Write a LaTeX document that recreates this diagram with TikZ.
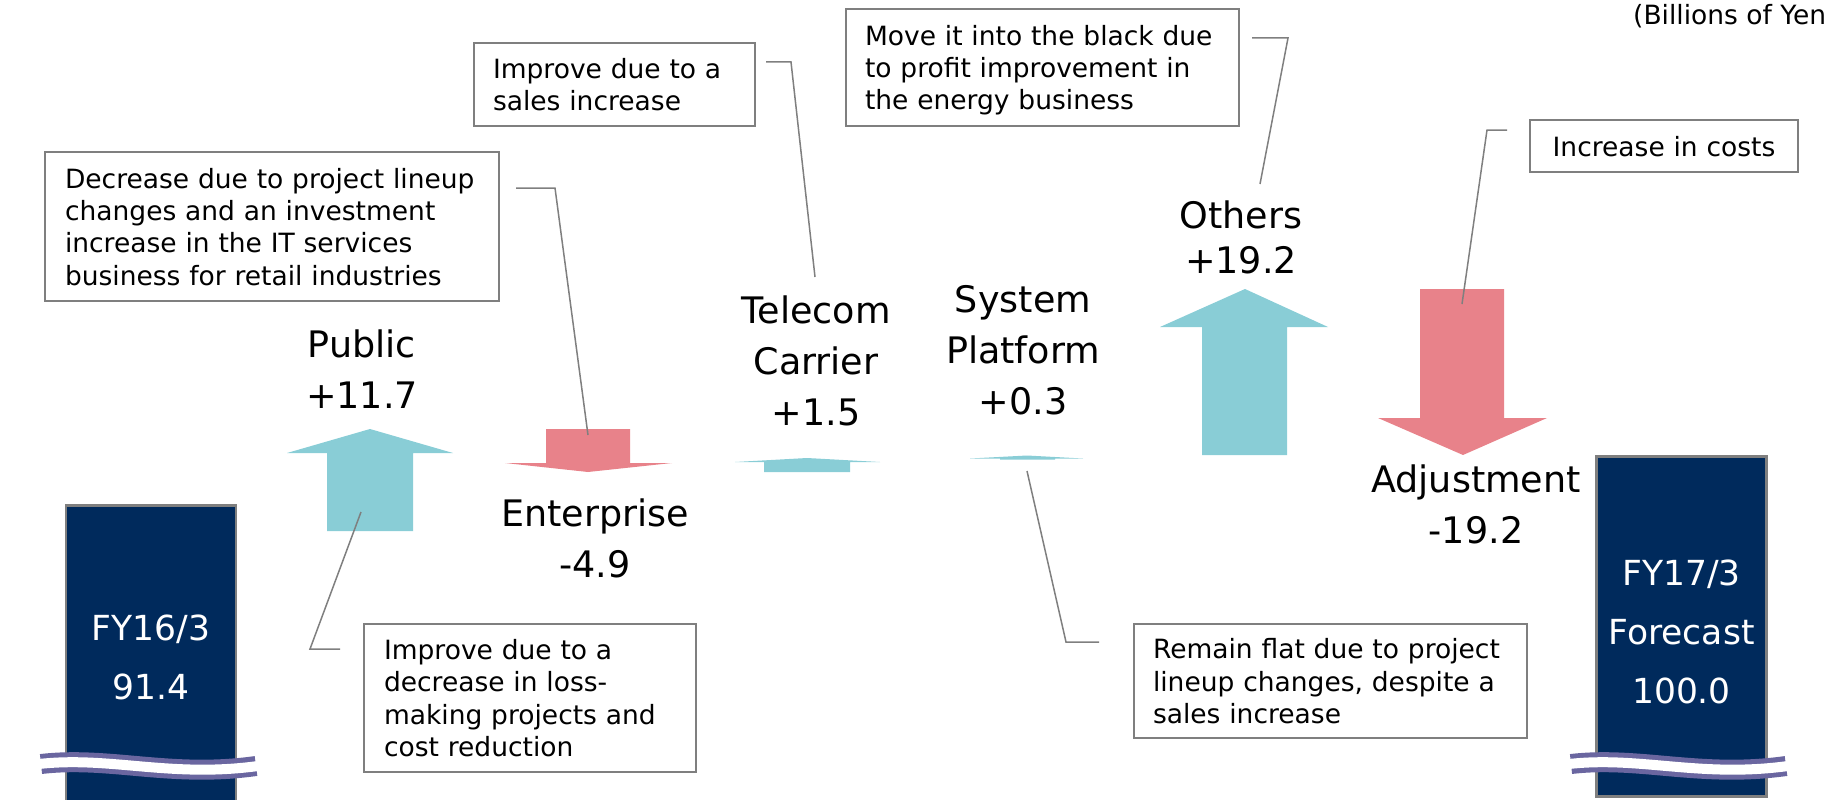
\documentclass[tikz,border=0pt]{standalone}
\usepackage{fontspec}
\setmainfont{DejaVu Sans}
\newcommand\boxfnt{\fontsize{26.5}{32.3}\selectfont}
\newcommand\labfnt{\fontsize{36.5}{51}\selectfont}
\newcommand\othfnt{\fontsize{36.5}{45}\selectfont}
\newcommand\barfnt{\fontsize{34.5}{59}\selectfont}
\newcommand\unitfnt{\fontsize{26.5}{30}\selectfont}
\definecolor{navy}{HTML}{002A5C}
\definecolor{upc}{HTML}{89CDD6}
\definecolor{downc}{HTML}{E8828A}
\definecolor{linegray}{HTML}{7F7F7F}
\definecolor{wavec}{HTML}{6A66A0}
\begin{document}
\begin{tikzpicture}[x=1pt,y=-1pt,
  box/.style={draw=linegray, line width=1.5pt, fill=white, font=\boxfnt, align=left, inner ysep=0pt},
  lab/.style={font=\labfnt, align=center, inner sep=0pt, text depth=0pt},
  bartext/.style={font=\barfnt, align=center, inner sep=0pt, text depth=0pt, text=white},
  bar/.style={draw=linegray, line width=2.5pt, fill=navy, minimum width=170pt, minimum height=340pt, anchor=north, inner sep=0pt},
  conn/.style={draw=linegray, line width=1.5pt},
  uparrow/.style={fill=upc},
  downarrow/.style={fill=downc}]
\useasboundingbox (0,0) rectangle (1825,800);

% bars
\node[bar] (fy16) at (151,504) {};
\node[bar] (fy17) at (1681.5,455) {};
\node[bartext] (fy16t) at (151,657) {FY16/3\\91.4};
\node[bartext] (fy17t) at (1681.5,632) {FY17/3\\Forecast\\100.0};

% waves
\foreach \dx in {0,1530}{
  \begin{scope}[xshift=\dx pt]
  \draw[wavec, line width=20pt] (41,764) .. controls (110,756) and (170,778) .. (256,766);
  \draw[white, line width=10pt] (39,764) .. controls (110,756) and (170,778) .. (258,766);
  \end{scope}
}

% arrows
\fill[uparrow] (327,531) -- (327,453) -- (287,453) -- (370,429) -- (453,453) -- (413,453) -- (413,531) -- cycle;
\fill[downarrow] (546,429) -- (630,429) -- (630,463) -- (672,463) -- (588,472) -- (505,463) -- (546,463) -- cycle;
\fill[uparrow] (764,472) -- (764,462) -- (735,462) -- (807,458) -- (880,462) -- (850,462) -- (850,472) -- cycle;
\fill[uparrow] (1000,459.5) -- (1000,458.5) -- (970,458.5) -- (1027,455.5) -- (1083,458.5) -- (1055,458.5) -- (1055,459.5) -- cycle;
\fill[uparrow] (1202,455) -- (1202,327) -- (1160,327) -- (1245,289) -- (1328,327) -- (1287,327) -- (1287,455) -- cycle;
\fill[downarrow] (1420,289) -- (1504,289) -- (1504,418) -- (1547,418) -- (1463,455) -- (1378,418) -- (1420,418) -- cycle;

% labels
\node[lab] (public) at (362,369.6) {Public\\+11.7};
\node[lab] (enterprise) at (595,538.5) {Enterprise\\-4.9};
\node[lab] (telecom) at (816,361) {Telecom\\Carrier\\+1.5};
\node[lab] (system) at (1023,349.5) {System\\Platform\\+0.3};
\node[lab, font=\othfnt] (others) at (1241,236.7) {Others\\+19.2};
\node[lab] (adjust) at (1476,504.5) {Adjustment\\-19.2};

\node[font=\unitfnt, anchor=base west, inner sep=0pt] (unit) at (1633,25) {(Billions of Yen)};

% boxes
\node[box, inner xsep=20pt, text width=414pt, text depth=96.9pt, minimum height=149pt] (b1) at (272,226.5)
  {Decrease due to project lineup\\changes and an investment\\increase in the IT services\\business for retail industries};
\node[box, inner xsep=19pt, text width=243pt, text depth=32.3pt, minimum height=83pt] (b2) at (614.5,84.5)
  {Improve due to a\\sales increase};
\node[box, inner xsep=19pt, text width=355pt, text depth=64.6pt, minimum height=117pt] (b3) at (1042.5,67.5)
  {Move it into the black due\\to profit improvement in\\the energy business};
\node[box, align=center, inner xsep=19pt, text width=230pt, text depth=0pt, minimum height=52pt] (b4) at (1664,146)
  {Increase in costs};
\node[box, inner xsep=20pt, text width=292pt, text depth=96.9pt, minimum height=148pt] (b5) at (530,698)
  {Improve due to a\\decrease in loss-\\making projects and\\cost reduction};
\node[box, inner xsep=19pt, text width=355pt, text depth=64.6pt, minimum height=114pt] (b6) at (1330.5,681)
  {Remain flat due to project\\lineup changes, despite a\\sales increase};

% connector points
\coordinate (c1a) at (516,188); \coordinate (c1b) at (555,188); \coordinate (c1c) at (588,435);
\coordinate (c2a) at (766,62);  \coordinate (c2b) at (791,62);  \coordinate (c2c) at (815,277);
\coordinate (c3a) at (1252,38); \coordinate (c3b) at (1288,38); \coordinate (c3c) at (1260,184);
\coordinate (c4a) at (1507,130); \coordinate (c4b) at (1487,130); \coordinate (c4c) at (1462,304);
\coordinate (c5a) at (361,512); \coordinate (c5b) at (310,649); \coordinate (c5c) at (340,649);
\coordinate (c6a) at (1027,471); \coordinate (c6b) at (1066,642); \coordinate (c6c) at (1099,642);

\draw[conn] (c1a) -- (c1b) -- (c1c);
\draw[conn] (c2a) -- (c2b) -- (c2c);
\draw[conn] (c3a) -- (c3b) -- (c3c);
\draw[conn] (c4a) -- (c4b) -- (c4c);
\draw[conn] (c5a) -- (c5b) -- (c5c);
\draw[conn] (c6a) -- (c6b) -- (c6c);
\end{tikzpicture}
\end{document}
